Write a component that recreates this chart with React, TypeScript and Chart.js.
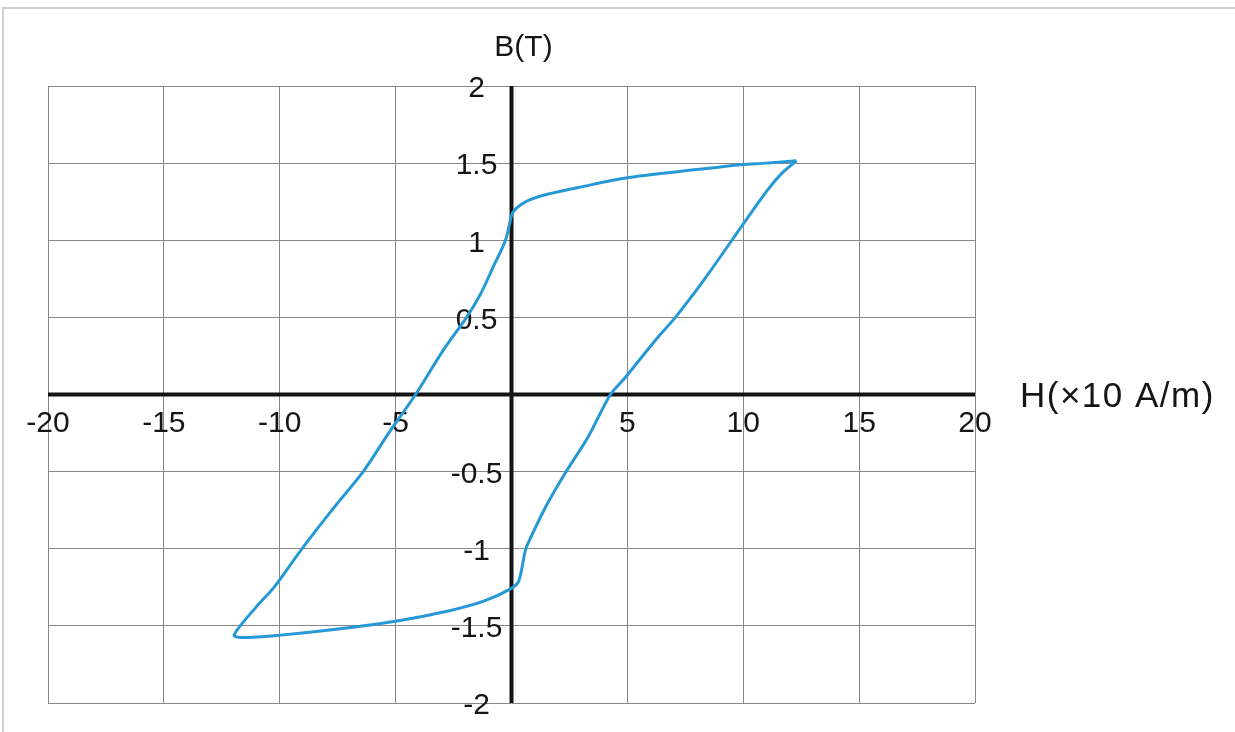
import React, { useEffect, useRef } from 'react';
import { Chart, registerables } from 'chart.js';

Chart.register(...registerables);

// Hysteresis loop: H (×10 A/m) and B (T), traced as a closed loop
const hValues = [
  12.3, 11.0, 9.9, 7.5, 5.0, 3.0, 1.5, 0.8, 0.4, 0.1, 0.0,
  -0.26, -0.78, -1.34, -1.94, -2.95, -4.14, -5.3, -6.4, -7.75, -9.09,
  -10.25, -11.03, -11.97,
  -11.55, -9.96, -7.66, -5.0, -2.63, -1.2, -0.04, 0.31, 0.6, 0.82,
  1.54, 2.4, 3.3, 4.27, 4.91, 6.2, 7.07, 8.29, 9.51, 11.02, 11.67, 12.3,
];
const bValues = [
  1.515, 1.5, 1.49, 1.45, 1.405, 1.346, 1.297, 1.264, 1.23, 1.19, 1.16,
  1.0, 0.83, 0.65, 0.5, 0.286, 0.0, -0.25, -0.5, -0.75, -1.01,
  -1.25, -1.38, -1.56,
  -1.576, -1.56, -1.524, -1.47, -1.4, -1.34, -1.26, -1.21, -1.01, -0.93,
  -0.71, -0.49, -0.277, 0.0, 0.11, 0.35, 0.5, 0.74, 1.0, 1.32, 1.435, 1.515,
];

const xTickValues = [-20, -15, -10, -5, 0, 5, 10, 15, 20];
const xTickLabels = ['-20', '-15', '-10', '-5', '', '5', '10', '15', '20'];
const yTickValues = [2, 1.5, 1, 0.5, 0, -0.5, -1, -1.5, -2];
const yTickLabels = ['2', '1.5', '1', '0.5', '', '-0.5', '-1', '-1.5', '-2'];

const xAxisTitle = 'H(×10 A/m)';
const yAxisTitle = 'B(T)';

const FONT = '"Liberation Sans", Arial, Helvetica, sans-serif';

const overlayPlugin = {
  id: 'axesOverlay',
  beforeDatasetsDraw(chart: any) {
    const { ctx, chartArea } = chart;
    const xs = chart.scales.x;
    const ys = chart.scales.y;
    const x0 = xs.getPixelForValue(0);
    const y0 = ys.getPixelForValue(0);
    ctx.save();
    // thick zero axes
    ctx.strokeStyle = '#141414';
    ctx.lineWidth = 4;
    ctx.beginPath();
    ctx.moveTo(chartArea.left, y0);
    ctx.lineTo(chartArea.right, y0);
    ctx.stroke();
    ctx.beginPath();
    ctx.moveTo(x0, chartArea.top);
    ctx.lineTo(x0, chartArea.bottom);
    ctx.stroke();

    // tick labels
    ctx.fillStyle = '#151515';
    ctx.font = `30px ${FONT}`;
    ctx.textAlign = 'center';
    ctx.textBaseline = 'middle';
    xTickValues.forEach((v, i) => {
      const t = xTickLabels[i];
      if (!t) return;
      ctx.fillText(t, xs.getPixelForValue(v), y0 + 29);
    });
    yTickValues.forEach((v, i) => {
      const t = yTickLabels[i];
      if (!t) return;
      ctx.fillText(t, x0 - 35, ys.getPixelForValue(v) + 3);
    });

    // axis titles
    ctx.font = `30px ${FONT}`;
    ctx.textAlign = 'center';
    ctx.fillText(yAxisTitle, x0 + 12, chartArea.top - 38);
    ctx.font = `35px ${FONT}`;
    try { (ctx as any).letterSpacing = '1.5px'; } catch (e) {}
    ctx.textAlign = 'left';
    ctx.fillText(xAxisTitle, chartArea.right + 45, y0 + 3);
    ctx.restore();
  },
};

export default function App() {
  const canvasRef = useRef<HTMLCanvasElement | null>(null);

  useEffect(() => {
    const canvas = canvasRef.current;
    if (!canvas) return;
    const data = hValues.map((h, i) => ({ x: h, y: bValues[i] }));
    const chart = new Chart(canvas, {
      type: 'scatter',
      data: {
        datasets: [
          {
            data,
            showLine: true,
            borderColor: '#2698d6',
            borderWidth: 3,
            pointRadius: 0,
            tension: 0.3,
            fill: false,
          },
        ],
      },
      options: {
        responsive: false,
        animation: false,
        devicePixelRatio: 1,
        layout: { padding: { left: 48, top: 86, right: 260, bottom: 29 } },
        plugins: {
          legend: { display: false },
          tooltip: { enabled: false },
        },
        scales: {
          x: {
            type: 'linear',
            min: -20,
            max: 20,
            afterBuildTicks: (scale: any) => {
              scale.ticks = xTickValues.map((v) => ({ value: v }));
            },
            ticks: { display: false },
            grid: { color: '#888888', lineWidth: 1, drawTicks: false },
            border: { display: false },
          },
          y: {
            type: 'linear',
            min: -2,
            max: 2,
            afterBuildTicks: (scale: any) => {
              scale.ticks = yTickValues.map((v) => ({ value: v }));
            },
            ticks: { display: false },
            grid: { color: '#888888', lineWidth: 1, drawTicks: false },
            border: { display: false },
          },
        },
      },
      plugins: [overlayPlugin],
    });
    return () => chart.destroy();
  }, []);

  return (
    <div
      style={{
        position: 'absolute',
        left: 0,
        top: 0,
        width: 1235,
        height: 732,
        background: '#ffffff',
        overflow: 'hidden',
      }}
    >
      <div
        style={{
          position: 'absolute',
          left: 2,
          top: 7,
          right: 0,
          bottom: 0,
          borderTop: '2px solid #cfcfcf',
          borderLeft: '2px solid #cfcfcf',
        }}
      />
      <canvas
        ref={canvasRef}
        width={1235}
        height={732}
        style={{ position: 'absolute', left: 0, top: 0, width: 1235, height: 732 }}
      />
    </div>
  );
}
